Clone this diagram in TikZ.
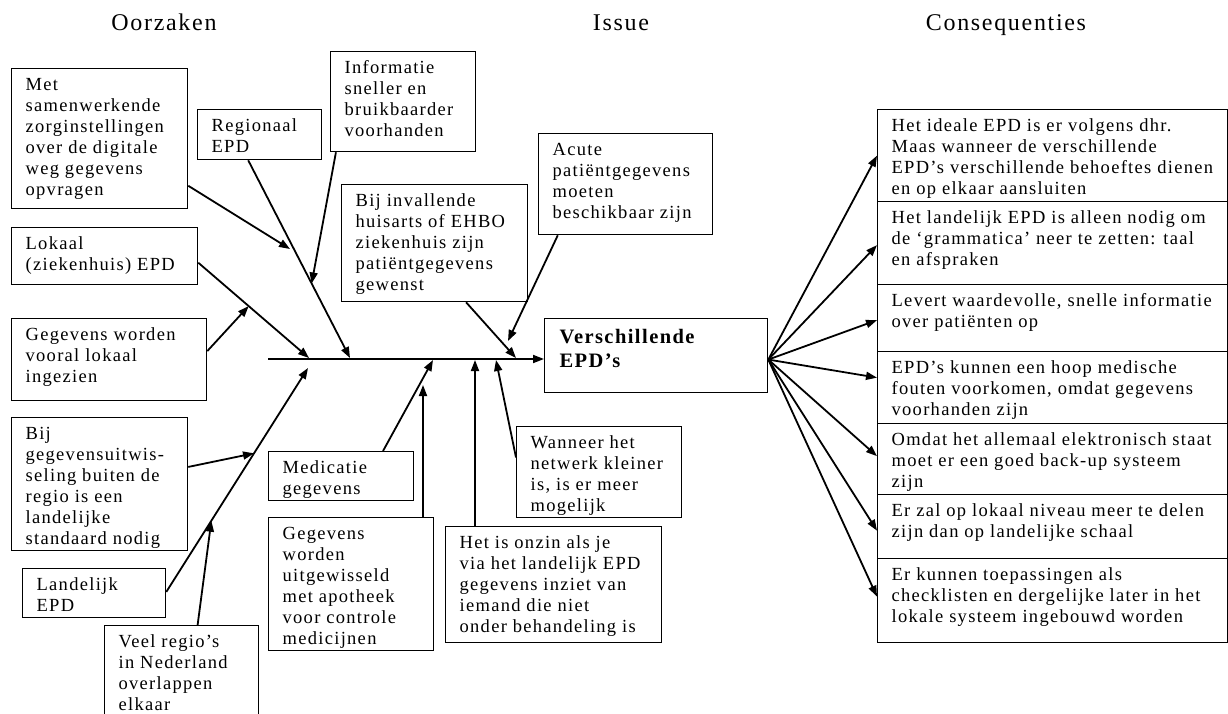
\documentclass[tikz,border=0pt]{standalone}
\usepackage{fontspec}
\setmainfont{Liberation Serif}[LetterSpace=7]
\usetikzlibrary{arrows.meta,calc}
\newcommand{\bodyfont}{\fontsize{18.5}{21}\selectfont}
\newcommand{\boxnode}[6]{\node[box, anchor=north west] (#1) at (#2,#3) {\parbox[c][#5pt][t]{#4pt}{\vspace*{7pt}\hspace*{14pt}\begin{tabular}[t]{@{}l@{}}#6\end{tabular}}};}
\begin{document}
\begin{tikzpicture}[x=1pt, y=-1pt,
  box/.style={draw, line width=1.3pt, inner sep=0pt, font=\bodyfont},
  arr/.style={line width=1.8pt, -{Triangle[length=11pt,width=8pt]}},
  title/.style={font=\fontsize{24}{28}\selectfont, anchor=base}]
\useasboundingbox (0,0) rectangle (1228,713);
\clip (0,0) rectangle (1228,713);

% titles
\node[title] (tO) at (164,30) {Oorzaken};
\node[title] (tI) at (621,30) {Issue};
\node[title] (tC) at (1006,30) {Consequenties};

% cause boxes
\boxnode{met}{11}{68}{176}{140}{Met\\samenwerkende\\zorginstellingen\\over de digitale\\weg gegevens\\opvragen}
\boxnode{reg}{197}{109}{124}{50}{Regionaal\\EPD}
\boxnode{inf}{330}{51}{145}{100}{Informatie\\sneller en\\bruikbaarder\\voorhanden}
\boxnode{lok}{11}{227}{186}{57}{Lokaal\\(ziekenhuis) EPD}
\boxnode{glok}{11}{318}{195}{82}{Gegevens worden\\vooral lokaal\\ingezien}
\boxnode{inv}{341}{184}{186}{117}{Bij invallende\\huisarts of EHBO\\ziekenhuis zijn\\patiëntgegevens\\gewenst}
\boxnode{acu}{538}{133}{174}{101}{Acute\\patiëntgegevens\\moeten\\beschikbaar zijn}
\boxnode{uitw}{11}{417}{176}{133}{Bij\\gegevensuitwis-\\seling buiten de\\regio is een\\landelijke\\standaard nodig}
\boxnode{lan}{22}{568}{143}{49}{Landelijk\\EPD}
\boxnode{veel}{104}{625}{154}{110}{Veel regio’s\\in Nederland\\overlappen\\elkaar}
\boxnode{med}{268}{451}{145}{49}{Medicatie\\gegevens}
\boxnode{uitg}{268}{517}{165}{133}{Gegevens\\worden\\uitgewisseld\\met apotheek\\voor controle\\medicijnen}
\boxnode{wan}{516}{426}{165}{91}{Wanneer het\\netwerk kleiner\\is, is er meer\\mogelijk}
\boxnode{onz}{445}{526}{216}{116}{Het is onzin als je\\via het landelijk EPD\\gegevens inziet van\\iemand die niet\\onder behandeling is}

% issue box
\node[box, anchor=north west, font={\fontsize{20.5}{24}\selectfont\bfseries}] (ver) at (544,318)
  {\parbox[c][74pt][t]{223pt}{\vspace*{8pt}\hspace*{15pt}\begin{tabular}[t]{@{}l@{}}Verschillende\\EPD’s\end{tabular}}};

% consequence boxes
\boxnode{R1}{877}{109}{350}{92}{Het ideale EPD is er volgens dhr.\\Maas wanneer de verschillende\\EPD’s verschillende behoeftes dienen\\en op elkaar aansluiten}
\boxnode{R2}{877}{201}{350}{83}{Het landelijk EPD is alleen nodig om\\de ‘grammatica’ neer te zetten: taal\\en afspraken}
\boxnode{R3}{877}{284}{350}{67}{Levert waardevolle, snelle informatie\\over patiënten op}
\boxnode{R4}{877}{351}{350}{72}{EPD’s kunnen een hoop medische\\fouten voorkomen, omdat gegevens\\voorhanden zijn}
\boxnode{R5}{877}{423}{350}{71}{Omdat het allemaal elektronisch staat\\moet er een goed back-up systeem\\zijn}
\boxnode{R6}{877}{494}{350}{64}{Er zal op lokaal niveau meer te delen\\zijn dan op landelijke schaal}
\boxnode{R7}{877}{558}{350}{84}{Er kunnen toepassingen als\\checklisten en dergelijke later in het\\lokale systeem ingebouwd worden}

% spine and tip points
\coordinate (sp0) at (268,359);
\coordinate (t-met) at (290,249);
\coordinate (t-reg) at (350,358);
\coordinate (t-lok) at (309,358);
\coordinate (t-inv) at (516,358);
\coordinate (t-acu) at (508,341);
\coordinate (t-lan) at (308,368);
\coordinate (t-med) at (433,360);
\coordinate (t-uitg) at (423,385);
\coordinate (t-wan) at (496,360);
\coordinate (t-onz) at (475,360);
\path (reg.-114) -- (t-reg) coordinate[pos=0.623] (t-inf);
\path (lok.-4) -- (t-lok) coordinate[pos=0.455] (t-glok);
\path (lan.1) -- (t-lan) coordinate[pos=0.619] (t-uitw);
\path (lan.1) -- (t-lan) coordinate[pos=0.318] (t-veel);

\draw[arr] (sp0) -- (sp0 -| ver.west);

% cause arrows
\draw[arr] (met.-28) -- (t-met);
\draw[arr] (reg.-114) -- (t-reg);
\draw[arr] (inf.-143) -- (t-inf);
\draw[arr] (lok.-4) -- (t-lok);
\draw[arr] (glok.5) -- (t-glok);
\draw[arr] (inv.-62) -- (t-inv);
\draw[arr] (acu.-143) -- (t-acu);
\draw[arr] (lan.1) -- (t-lan);
\draw[arr] (uitw.11) -- (t-uitw);
\draw[arr] (veel.74) -- (t-veel);
\draw[arr] (med.31) -- (t-med);
\draw[arr] (t-uitg |- uitg.north) -- (t-uitg);
\draw[arr] (wan.170) -- (t-wan);
\draw[arr] (t-onz |- onz.north) -- (t-onz);

% consequence arrows
\foreach \r/\dy in {R1/0,R2/2,R3/2,R4/-10,R5/-3,R6/4,R7/-4}
  \draw[arr] (ver.-2) -- ($(\r.west)+(0,\dy)$);
\end{tikzpicture}
\end{document}
